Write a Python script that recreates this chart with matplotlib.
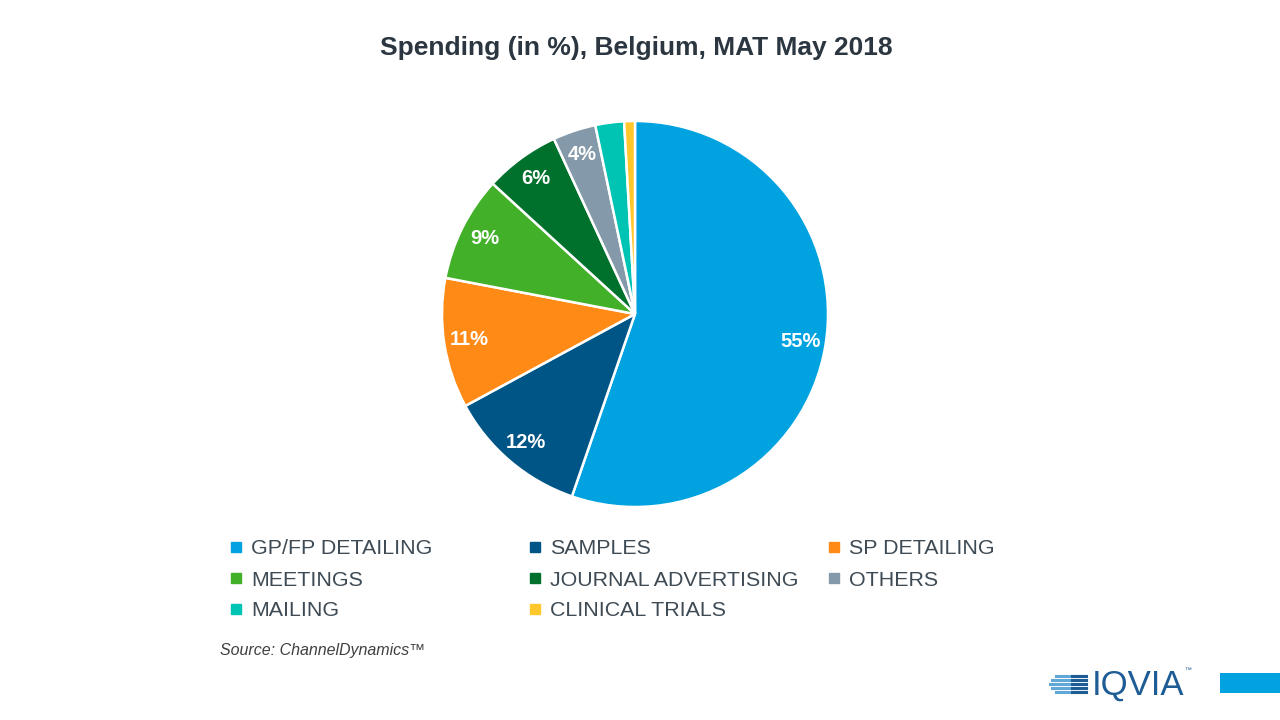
import matplotlib
matplotlib.use("Agg")
import matplotlib.pyplot as plt
from matplotlib.patches import Rectangle
from matplotlib.lines import Line2D


categories = [
    "GP/FP DETAILING",
    "SAMPLES",
    "SP DETAILING",
    "MEETINGS",
    "JOURNAL ADVERTISING",
    "OTHERS",
    "MAILING",
    "CLINICAL TRIALS",
]
shares = [55.3, 11.8, 10.9, 8.8, 6.3, 3.6, 2.4, 0.9]
colors = [
    "#00A3E0",
    "#005587",
    "#FF8A16",
    "#43B02A",
    "#00712D",
    "#849AAA",
    "#00C4B3",
    "#FFC72C",
]

TEXT_DARK = "#2B3640"
LEGEND_TEXT = "#3E4A54"

plt.rcParams["font.family"] = ["Liberation Sans", "DejaVu Sans"]

fig = plt.figure(figsize=(12.8, 7.2), dpi=100)
fig.patch.set_facecolor("white")

# pie axes: centre ~ (635, 314) px, radius ~ 192 px
cx, cy, r = 635, 314, 193
ax = fig.add_axes([(cx - r) / 1280, (720 - cy - r) / 720, 2 * r / 1280, 2 * r / 720])
ax.pie(
    shares,
    colors=colors,
    startangle=90,
    counterclock=False,
    radius=1.0,
    wedgeprops=dict(edgecolor="white", linewidth=1.8),
    autopct=lambda p: f"{p:.0f}%" if p > 3 else "",
    pctdistance=0.87,
    textprops=dict(color="white", fontsize=14.5, fontweight="bold"),
)
ax.set_xlim(-1.0, 1.0)
ax.set_ylim(-1.0, 1.0)
ax.set_aspect("equal")
ax.axis("off")

fig.text(
    0.497, 1 - 48 / 720, "Spending (in %), Belgium, MAT May 2018",
    ha="center", va="center", fontsize=19, fontweight="bold", color=TEXT_DARK,
)

# legend, laid out row by row in three columns
col_x = [230, 529, 828]
row_y = [549, 580, 611]
for i, (name, col) in enumerate(zip(categories, colors)):
    row, c = divmod(i, 3)
    handle = Line2D([], [], marker="s", linestyle="none", markersize=7.5,
                    markerfacecolor=col, markeredgecolor=col)
    fig.legend(
        [handle], [name],
        loc="center left",
        bbox_to_anchor=(col_x[c] / 1280, 1 - row_y[row] / 720),
        frameon=False,
        fontsize=15.4,
        labelcolor=LEGEND_TEXT,
        handlelength=0.6,
        handletextpad=0.4,
        borderpad=0,
        borderaxespad=0,
    )

fig.text(220 / 1280, 1 - 650 / 720, "Source: ChannelDynamics\u2122",
         ha="left", va="center", fontsize=11.5, style="italic", color="#404040")

# IQVIA mark, bottom right
logo_blue = "#1E5C96"
stripe_y = [676, 680, 684, 688, 692]
stripe_x0 = [1056, 1052, 1050, 1052, 1056]
for yy, x0 in zip(stripe_y, stripe_x0):
    fig.add_artist(Line2D([x0 / 1280, 1086 / 1280], [1 - yy / 720] * 2,
                          color="#5FA8D8", linewidth=2.2))
    fig.add_artist(Line2D([1072 / 1280, 1086 / 1280], [1 - yy / 720] * 2,
                          color=logo_blue, linewidth=2.2))
fig.text(1092 / 1280, 1 - 685 / 720, "IQVIA", ha="left", va="center",
         fontsize=25, color=logo_blue, family=["Liberation Sans"])
fig.text(1184 / 1280, 1 - 671 / 720, "\u2122", ha="left", va="center",
         fontsize=5, color=logo_blue)
fig.add_artist(Rectangle((1220 / 1280, 1 - 693 / 720), 60 / 1280, 20 / 720,
                         transform=fig.transFigure, facecolor="#00A3E0",
                         edgecolor="none"))

fig.savefig("out.png", dpi=100, facecolor="white")
